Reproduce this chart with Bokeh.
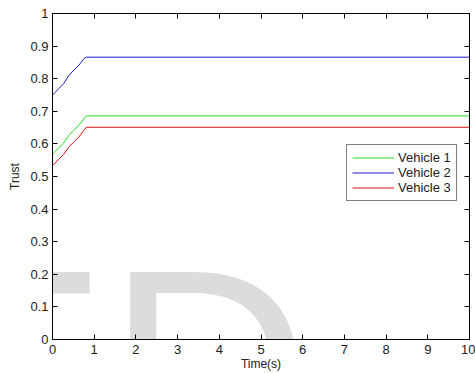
from bokeh.plotting import figure
from bokeh.models import LinearAxis, FixedTicker, Legend, LegendItem, Label, Range1d
from bokeh.embed import file_html
from bokeh.resources import INLINE

# ---- data ----
time_s = [0, 0.15, 0.27, 0.39, 0.51, 0.63, 0.75, 0.81, 10]
vehicle1 = [0.568, 0.588, 0.603, 0.626, 0.641, 0.657, 0.676, 0.686, 0.686]
vehicle2 = [0.749, 0.770, 0.785, 0.810, 0.826, 0.841, 0.861, 0.866, 0.866]
vehicle3 = [0.533, 0.553, 0.568, 0.590, 0.606, 0.621, 0.641, 0.651, 0.651]
series_names = ["Vehicle 1", "Vehicle 2", "Vehicle 3"]
series_colors = ["#22dd22", "#1a1acc", "#dd1111"]

x_ticks = [0, 1, 2, 3, 4, 5, 6, 7, 8, 9, 10]
y_ticks = [0, 0.1, 0.2, 0.3, 0.4, 0.5, 0.6, 0.7, 0.8, 0.9, 1]
y_tick_labels = ["0", "0.1", "0.2", "0.3", "0.4", "0.5", "0.6", "0.7", "0.8", "0.9", "1"]
x_label = "Time(s)"
y_label = "Trust"
watermark = "ED"

FONT = "Liberation Sans"

p = figure(width=475, height=373, x_range=Range1d(0, 10), y_range=Range1d(0, 1),
           output_backend="svg", toolbar_location=None,
           min_border_left=52, min_border_right=6, min_border_top=13, min_border_bottom=33)
p.grid.visible = False
p.outline_line_color = "black"
p.outline_line_width = 1
p.background_fill_color = "white"
p.border_fill_color = "white"

# watermark
wm = Label(x=-3.165, y=0.392, text=watermark, text_font=FONT,
           text_font_size="280px", text_color="#dcdcdc",
           text_baseline="top", text_align="left", level="guide")
p.renderers.append(wm)

def style_axis(ax, show_labels):
    ax.major_tick_in = 5
    ax.major_tick_out = 0
    ax.minor_tick_line_color = None
    ax.axis_line_color = "black"
    ax.major_tick_line_color = "black"
    if show_labels:
        ax.major_label_text_font = FONT
        ax.major_label_text_font_size = "13px"
        ax.major_label_text_color = "#222222"
        ax.axis_label_text_font = FONT
        ax.axis_label_text_font_size = "12px"
        ax.axis_label_text_font_style = "normal"
        ax.axis_label_text_color = "#222222"
    else:
        ax.major_label_text_font_size = "1px"
        ax.major_label_text_color = None
        ax.major_label_standoff = 0
        ax.axis_label = None

xb = p.xaxis[0]
xb.ticker = FixedTicker(ticks=x_ticks)
style_axis(xb, True)
xb.major_label_standoff = 5
xb.axis_label = x_label
xb.axis_label_standoff = 0

yl = p.yaxis[0]
yl.ticker = FixedTicker(ticks=y_ticks)
style_axis(yl, True)
yl.major_label_overrides = dict(zip(y_ticks, y_tick_labels))
yl.major_label_standoff = 4
yl.axis_label = y_label
yl.axis_label_standoff = 5

xt = LinearAxis(ticker=FixedTicker(ticks=x_ticks))
style_axis(xt, False)
p.add_layout(xt, "above")
yr = LinearAxis(ticker=FixedTicker(ticks=y_ticks))
style_axis(yr, False)
p.add_layout(yr, "right")

renderers = []
for vals, col in zip([vehicle1, vehicle2, vehicle3], series_colors):
    r = p.line(time_s, vals, line_color=col, line_width=1)
    renderers.append(r)

legend = Legend(items=[LegendItem(label=n, renderers=[r]) for n, r in zip(series_names, renderers)],
                location=(294, 138))
legend.border_line_color = "black"
legend.border_line_width = 1
legend.label_text_font = FONT
legend.label_text_font_size = "13px"
legend.label_text_color = "#222222"
legend.glyph_width = 42
legend.glyph_height = 15
legend.label_height = 15
legend.spacing = 0
legend.padding = 5
legend.label_standoff = 4
legend.margin = 0
legend.background_fill_alpha = 1
p.add_layout(legend)

open("out.html", "w").write(file_html(p, INLINE))
